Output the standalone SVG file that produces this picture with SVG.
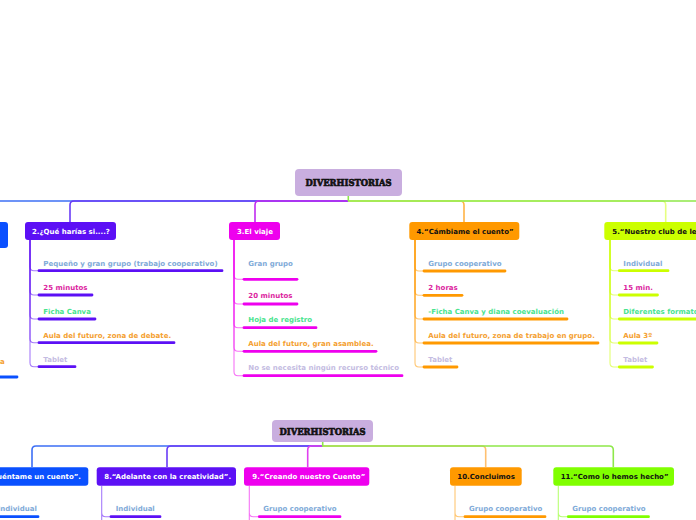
<svg xmlns="http://www.w3.org/2000/svg" width="696" height="520" viewBox="0 0 696 520">
<style>
.t{font-family:"DejaVu Sans",Verdana,sans-serif;font-weight:bold;font-size:7px}
.root{font-family:"DejaVu Serif",serif;font-weight:900;font-size:9px;fill:#111;stroke:#111;stroke-width:.65;text-anchor:middle}
.w{fill:#fff}.k{fill:#111}
.c1{fill:#80aad8}.c2{fill:#dc1fa0}.c3{fill:#48e48e}.c4{fill:#f4a030}.c5{fill:#c4bce2}
.br{fill:none;stroke-width:1.6}
.sub{fill:none;stroke-width:1.1;stroke-opacity:.55}
.ul{stroke-width:2.8;stroke-linecap:round}
.blue{fill:#0a50ff}.vio{fill:#5c10f5}.mag{fill:#ee00ee}.ora{fill:#ff9900}.yel{fill:#ccff00}.grn{fill:#80ff00}
.rootbox{fill:#c9aedf}
</style>

<g id="connectors">
  <path class="br" stroke="#3d6ff5" d="M348,201 H-20"/>
  <path class="br" stroke="#6a3cf7" d="M348,201 H74 Q70,201 70,205 V222"/>
  <path class="br" stroke="#c02cf0" d="M348,201 H259 Q255,201 255,205 V222"/>
  <path class="br" stroke="#ffb347" d="M348,201 H460 Q464,201 464,205 V222"/>
  <path class="br" stroke="#e6ff80" d="M348,201 H661.7 Q665.7,201 665.7,205 V222"/>
  <path class="br" stroke="#8ee84a" d="M348.3,196 V201 M348,201 H720"/>
  <path class="br" stroke="#3d6ff5" d="M322.7,446 H36 Q32,446 32,450 V467"/>
  <path class="br" stroke="#6a3cf7" d="M322.7,446 H171 Q167,446 167,450 V467"/>
  <path class="br" stroke="#e040f0" d="M322.7,446 H311.7 Q307.7,446 307.7,450 V467"/>
  <path class="br" stroke="#ffc070" d="M322.7,446 H481.7 Q485.7,446 485.7,450 V467"/>
  <path class="br" stroke="#8ee84a" d="M322.7,442 V446 H609.3 Q613.3,446 613.3,450 V467"/>
  <g stroke="#5c10f5" class="sub">
    <path d="M30,240 V266.7 Q30,270.7 34,270.7 H38"/>
    <path d="M30,240 V291 Q30,295 34,295 H38"/>
    <path d="M30,240 V315 Q30,319 34,319 H38"/>
    <path d="M30,240 V338.7 Q30,342.7 34,342.7 H38"/>
    <path d="M30,240 V362.7 Q30,366.7 34,366.7 H38"/>
  </g>
  <g stroke="#ee00ee" class="sub">
    <path d="M234,240 V275.3 Q234,279.3 238,279.3 H243"/>
    <path d="M234,240 V300 Q234,304 238,304 H243"/>
    <path d="M234,240 V323.7 Q234,327.7 238,327.7 H243"/>
    <path d="M234,240 V347.3 Q234,351.3 238,351.3 H243"/>
    <path d="M234,240 V371.7 Q234,375.7 238,375.7 H243"/>
  </g>
  <g stroke="#ff9900" class="sub">
    <path d="M415,240 V267 Q415,271 419,271 H423"/>
    <path d="M415,240 V291.3 Q415,295.3 419,295.3 H423"/>
    <path d="M415,240 V315 Q415,319 419,319 H423"/>
    <path d="M415,240 V339 Q415,343 419,343 H423"/>
    <path d="M415,240 V363 Q415,367 419,367 H423"/>
  </g>
  <g stroke="#ccff00" class="sub">
    <path d="M610,240 V266.7 Q610,270.7 614,270.7 H618.3"/>
    <path d="M610,240 V291 Q610,295 614,295 H618.3"/>
    <path d="M610,240 V315 Q610,319 614,319 H618.3"/>
    <path d="M610,240 V339 Q610,343 614,343 H618.3"/>
    <path d="M610,240 V363 Q610,367 614,367 H618.3"/>
  </g>
  <path class="sub" stroke="#5c10f5" d="M101.7,486 V530 M101.7,486 V512.7 Q101.7,516.7 105.7,516.7 H110"/>
  <path class="sub" stroke="#ee00ee" d="M249.3,486 V530 M249.3,486 V512.7 Q249.3,516.7 253.3,516.7 H258.3"/>
  <path class="sub" stroke="#ff9900" d="M455,486 V530 M455,486 V512.7 Q455,516.7 459,516.7 H464"/>
  <path class="sub" stroke="#80ff00" d="M558.3,486 V530 M558.3,486 V512.7 Q558.3,516.7 562.3,516.7 H567.3"/>
</g>

<g id="root-top">
  <rect class="rootbox" x="295" y="169" width="107" height="27" rx="4"/>
  <text class="root" x="348.5" y="185.8" textLength="86" lengthAdjust="spacingAndGlyphs">DIVERHISTORIAS</text>
</g>
<g id="root-bottom">
  <rect class="rootbox" x="272" y="420" width="101" height="22" rx="4"/>
  <text class="root" x="322.5" y="434.5" textLength="86" lengthAdjust="spacingAndGlyphs">DIVERHISTORIAS</text>
</g>

<g id="node1">
  <rect class="blue" x="-100" y="222" width="108" height="26" rx="3"/>
  <text class="t c4" x="4.6" y="364.2" text-anchor="end">a</text>
  <line class="ul" stroke="#0a50ff" x1="-10" y1="377" x2="17" y2="377"/>
</g>

<g id="node2">
  <rect class="vio" x="25" y="222" width="91" height="18" rx="3"/>
  <text class="t w" x="32" y="233.5">2.¿Qué harías si....?</text>
  <g stroke="#5c10f5" class="ul">
    <line x1="39" y1="270.7" x2="222" y2="270.7"/>
    <line x1="39" y1="295" x2="92" y2="295"/>
    <line x1="39" y1="319" x2="95" y2="319"/>
    <line x1="39" y1="342.7" x2="174" y2="342.7"/>
    <line x1="39" y1="366.7" x2="75" y2="366.7"/>
  </g>
  <text class="t c1" x="43.3" y="266">Pequeño y gran grupo (trabajo cooperativo)</text>
  <text class="t c2" x="43.3" y="290.2">25 minutos</text>
  <text class="t c3" x="43.3" y="314.2">Ficha Canva</text>
  <text class="t c4" x="43.3" y="337.5">Aula del futuro, zona de debate.</text>
  <text class="t c5" x="43.3" y="361.8">Tablet</text>
</g>

<g id="node3">
  <rect class="mag" x="229" y="222" width="51" height="18" rx="3"/>
  <text class="t w" x="237" y="233.5">3.El viaje</text>
  <g stroke="#ee00ee" class="ul">
    <line x1="244" y1="279.3" x2="297" y2="279.3"/>
    <line x1="244" y1="304" x2="297" y2="304"/>
    <line x1="244" y1="327.7" x2="316" y2="327.7"/>
    <line x1="244" y1="351.3" x2="376" y2="351.3"/>
    <line x1="244" y1="375.7" x2="402" y2="375.7"/>
  </g>
  <text class="t c1" x="248.3" y="265.8">Gran grupo</text>
  <text class="t c2" x="248.3" y="298.2">20 minutos</text>
  <text class="t c3" x="248.3" y="321.8">Hoja de registro</text>
  <text class="t c4" x="248.3" y="345.8">Aula del futuro, gran asamblea.</text>
  <text class="t c5" x="248.3" y="369.8">No se necesita ningún recurso técnico</text>
</g>

<g id="node4">
  <rect class="ora" x="409.3" y="222" width="110" height="18" rx="3"/>
  <text class="t k" x="416.5" y="233.5">4.“Cámbiame el cuento”</text>
  <g stroke="#ff9900" class="ul">
    <line x1="424" y1="271" x2="505" y2="271"/>
    <line x1="424" y1="295.3" x2="462" y2="295.3"/>
    <line x1="424" y1="319" x2="567" y2="319"/>
    <line x1="424" y1="343" x2="598" y2="343"/>
    <line x1="424" y1="367" x2="457" y2="367"/>
  </g>
  <text class="t c1" x="428.3" y="265.8">Grupo cooperativo</text>
  <text class="t c2" x="428.3" y="289.8">2 horas</text>
  <text class="t c3" x="428.3" y="313.8">-Ficha Canva y diana coevaluación</text>
  <text class="t c4" x="428.3" y="337.8">Aula del futuro, zona de trabajo en grupo.</text>
  <text class="t c5" x="428.3" y="361.8">Tablet</text>
</g>

<g id="node5">
  <rect class="yel" x="604.3" y="222" width="140" height="18" rx="3"/>
  <text class="t k" x="612.3" y="233.5">5.“Nuestro club de lectura”</text>
  <g stroke="#ccff00" class="ul">
    <line x1="619.3" y1="270.7" x2="668" y2="270.7"/>
    <line x1="619.3" y1="295" x2="657.5" y2="295"/>
    <line x1="619.3" y1="319" x2="720" y2="319"/>
    <line x1="619.3" y1="343" x2="657" y2="343"/>
    <line x1="619.3" y1="367" x2="652.5" y2="367"/>
  </g>
  <text class="t c1" x="623.3" y="265.8">Individual</text>
  <text class="t c2" x="623.3" y="289.8">15 min.</text>
  <text class="t c3" x="623.3" y="313.8">Diferentes formatos</text>
  <text class="t c4" x="623.3" y="337.8">Aula 3º</text>
  <text class="t c5" x="623.3" y="361.8">Tablet</text>
</g>

<g id="node7">
  <rect class="blue" x="-60" y="467.3" width="148.3" height="18.4" rx="3"/>
  <text class="t w" x="81" y="479" text-anchor="end">7.“Cuéntame un cuento”.</text>
  <line class="ul" stroke="#0a50ff" x1="-10" y1="516.7" x2="38" y2="516.7"/>
  <text class="t c1" x="-2.3" y="511.2">Individual</text>
</g>

<g id="node8">
  <rect class="vio" x="96.7" y="467.3" width="139.3" height="18.4" rx="3"/>
  <text class="t w" x="104.3" y="479">8.“Adelante con la creatividad”.</text>
  <line class="ul" stroke="#5c10f5" x1="111" y1="516.7" x2="160" y2="516.7"/>
  <text class="t c1" x="115.7" y="511.2">Individual</text>
</g>

<g id="node9">
  <rect class="mag" x="244" y="467.3" width="125.3" height="18.4" rx="3"/>
  <text class="t w" x="252.3" y="479">9.“Creando nuestro Cuento”</text>
  <line class="ul" stroke="#ee00ee" x1="259.3" y1="516.7" x2="340" y2="516.7"/>
  <text class="t c1" x="263.3" y="511.2">Grupo cooperativo</text>
</g>

<g id="node10">
  <rect class="ora" x="450" y="467.3" width="71.7" height="18.4" rx="3"/>
  <text class="t k" x="457.3" y="479">10.Concluimos</text>
  <line class="ul" stroke="#ff9900" x1="465" y1="516.7" x2="545" y2="516.7"/>
  <text class="t c1" x="469" y="511.2">Grupo cooperativo</text>
</g>

<g id="node11">
  <rect class="grn" x="553.3" y="467.3" width="120.7" height="18.4" rx="3"/>
  <text class="t k" x="560.7" y="479">11.“Como lo hemos hecho”</text>
  <line class="ul" stroke="#80ff00" x1="568.3" y1="516.7" x2="648.5" y2="516.7"/>
  <text class="t c1" x="572.3" y="511.2">Grupo cooperativo</text>
</g>
</svg>
